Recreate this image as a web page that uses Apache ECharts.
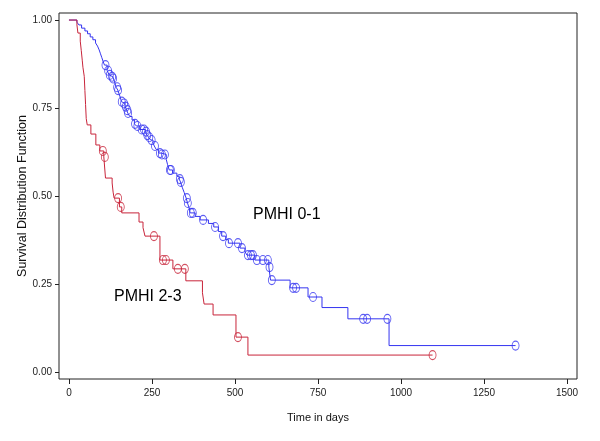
<!DOCTYPE html>
<html>
<head>
<meta charset="utf-8">
<script src="https://cdn.jsdelivr.net/npm/echarts@6/dist/echarts.min.js"></script>
<style>
html,body{margin:0;padding:0;background:#fff;}
#chart{width:600px;height:441px;}
</style>
</head>
<body>
<div id="chart"></div>
<script>
// Axis ticks
const xTicks = [0, 250, 500, 750, 1000, 1250, 1500];
const yTicks = [0, 0.25, 0.5, 0.75, 1.0];

// PMHI 0-1 (blue): [time in days, survival after step]
const blueSteps = [[0,1.0],[24,0.994],[30,0.986],[38,0.977],[48,0.969],[56,0.961],[64,0.952],[72,0.944],[80,0.935],[86,0.926],[91,0.915],[95,0.904],[99,0.893],[103,0.882],[107,0.872],[115,0.856],[121,0.844],[127,0.839],[132,0.834],[138,0.822],[142,0.809],[147,0.801],[151,0.79],[155,0.779],[158,0.768],[163,0.763],[169,0.754],[174,0.744],[177,0.736],[183,0.726],[190,0.716],[197,0.705],[203,0.699],[213,0.689],[230,0.683],[235,0.673],[240,0.667],[246,0.659],[253,0.651],[257,0.642],[263,0.632],[270,0.622],[278,0.618],[293,0.604],[297,0.589],[302,0.574],[312,0.565],[325,0.556],[332,0.548],[336,0.54],[341,0.525],[347,0.51],[353,0.494],[357,0.48],[362,0.466],[365,0.452],[380,0.442],[395,0.432],[420,0.422],[436,0.412],[450,0.399],[460,0.386],[472,0.376],[480,0.366],[515,0.352],[530,0.342],[536,0.332],[560,0.318],[602,0.298],[607,0.261],[666,0.239],[720,0.213],[762,0.183],[840,0.151],[964,0.075]];
const blueEnd = 1345;
const blueCensor = [110,118,123,130,133,145,148,159,166,171,176,178,199,206,219,226,232,236,242,249,259,274,280,289,304,307,334,337,355,358,367,373,404,440,464,482,509,521,539,548,554,566,584,599,604,611,675,684,735,886,898,959,1345];

// PMHI 2-3 (red)
const redSteps = [[0,1.0],[24,0.986],[27,0.963],[34,0.94],[37,0.914],[40,0.886],[42,0.866],[46,0.84],[48,0.80],[50,0.76],[52,0.72],[55,0.702],[66,0.676],[81,0.645],[93,0.628],[105,0.611],[110,0.551],[130,0.537],[133,0.511],[136,0.494],[152,0.469],[159,0.452],[211,0.426],[223,0.41],[229,0.386],[274,0.318],[313,0.293],[352,0.259],[402,0.225],[407,0.193],[434,0.162],[503,0.099],[539,0.048]];
const redEnd = 1095;
const redCensor = [102,108,148,156,256,283,292,328,349,509,1095];

const groupLabels = ['PMHI 0-1', 'PMHI 2-3'];

function survAt(steps, t) {
  let s = steps[0][1];
  for (const [tt, ss] of steps) { if (tt <= t) s = ss; else break; }
  return s;
}
function lineData(steps, end) {
  const d = steps.map(p => [p[0], p[1]]);
  d.push([end, steps[steps.length - 1][1]]);
  return d;
}
function censorData(steps, times) {
  return times.map(t => [t, survAt(steps, t)]);
}

const BLUE = '#3434f0';
const RED = '#c8243a';
const chart = echarts.init(document.getElementById('chart'));
const tickFont = { fontFamily: 'Liberation Sans, Arial, sans-serif', fontSize: 10, color: '#222' };

chart.setOption({
  animation: false,
  grid: { left: 59, right: 23, top: 13, bottom: 62, show: true, borderColor: '#222', borderWidth: 1, backgroundColor: 'transparent' },
  xAxis: {
    type: 'value', min: -30, max: 1530,
    name: 'Time in days', nameLocation: 'middle', nameGap: 33, nameMoveOverlap: false,
    nameTextStyle: { fontFamily: 'Liberation Sans, Arial, sans-serif', fontSize: 11, color: '#111' },
    axisLine: { show: false, onZero: false },
    axisTick: { show: true, customValues: xTicks, length: 5, lineStyle: { color: '#222' } },
    axisLabel: Object.assign({ customValues: xTicks, margin: 9, formatter: v => String(v) }, tickFont),
    splitLine: { show: false }
  },
  yAxis: {
    type: 'value', min: -0.02, max: 1.02,
    name: 'Survival Distribution Function', nameLocation: 'middle', nameGap: 30, nameRotate: 90, nameMoveOverlap: false,
    nameTextStyle: { fontFamily: 'Liberation Sans, Arial, sans-serif', fontSize: 12.5, color: '#111' },
    axisLine: { show: false, onZero: false },
    axisTick: { show: true, customValues: yTicks, length: 4, lineStyle: { color: '#222' } },
    axisLabel: Object.assign({ customValues: yTicks, margin: 7, formatter: v => v.toFixed(2) }, tickFont),
    splitLine: { show: false }
  },
  series: [
    { type: 'line', step: 'end', data: lineData(blueSteps, blueEnd), showSymbol: false, symbol: 'none',
      lineStyle: { color: BLUE, width: 1 }, z: 2 },
    { type: 'scatter', data: censorData(blueSteps, blueCensor), symbol: 'circle', symbolSize: [7, 9],
      itemStyle: { color: 'rgba(0,0,0,0)', borderColor: BLUE, borderWidth: 1 }, z: 3 },
    { type: 'line', step: 'end', data: lineData(redSteps, redEnd), showSymbol: false, symbol: 'none',
      lineStyle: { color: RED, width: 1 }, z: 4 },
    { type: 'scatter', data: censorData(redSteps, redCensor), symbol: 'circle', symbolSize: [7, 9],
      itemStyle: { color: 'rgba(0,0,0,0)', borderColor: RED, borderWidth: 1 }, z: 5 }
  ],
  graphic: [
    { type: 'text', left: 253, top: 207, style: { text: groupLabels[0], font: '16px Liberation Sans, Arial, sans-serif', fill: '#000' } },
    { type: 'text', left: 114, top: 289, style: { text: groupLabels[1], font: '16px Liberation Sans, Arial, sans-serif', fill: '#000' } }
  ]
});
</script>
</body>
</html>
